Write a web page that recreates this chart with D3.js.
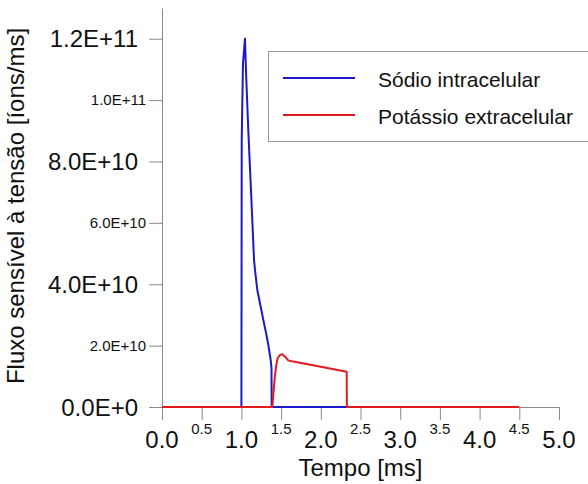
<!DOCTYPE html>
<html>
<head>
<meta charset="utf-8">
<script src="https://cdn.jsdelivr.net/npm/d3@7"></script>
<style>
  html, body { margin: 0; padding: 0; background: #fff; }
  svg { display: block; font-family: "Liberation Sans", Arial, sans-serif; }
</style>
</head>
<body>
<svg id="chart" width="588" height="484"></svg>
<script>
// Voltage-gated ion flux over time [ms]
const timeNa = [0, 1.0, 1.004, 1.02, 1.045, 1.06, 1.087, 1.12, 1.159, 1.171, 1.2, 1.24, 1.276, 1.31, 1.339, 1.369, 1.379, 1.381, 2.326];
const fluxNa = [0, 0, 8.7e10, 1.12e11, 1.2e11, 1.08e11, 9.0e10, 7.1e10, 4.8e10, 4.47e10, 3.82e10, 3.3e10, 2.84e10, 2.42e10, 2.02e10, 1.53e10, 1.27e10, 0, 0];

const timeK = [0, 1.389, 1.405, 1.423, 1.44, 1.457, 1.48, 1.515, 1.55, 1.59, 1.63, 1.654, 2.0, 2.326, 2.328, 4.5];
const fluxK = [0, 0, 5e9, 1.04e10, 1.38e10, 1.59e10, 1.68e10, 1.72e10, 1.64e10, 1.52e10, 1.49e10, 1.48e10, 1.31e10, 1.15e10, 0, 0];

const seriesNames = ["Sódio intracelular", "Potássio extracelular"];
const seriesColors = ["#1a1ac8", "#e3191e"];

const xMajorTicks = [0, 1, 2, 3, 4, 5];
const xMinorTicks = [0.5, 1.5, 2.5, 3.5, 4.5];
const yMajorTicks = [0, 4e10, 8e10, 1.2e11];
const yMinorTicks = [2e10, 6e10, 1e11];

const xTitle = "Tempo [ms]";
const yTitle = "Fluxo sensível à tensão [íons/ms]";

const svg = d3.select("#chart");
const axisColor = "#8a8a8a";

const x = d3.scaleLinear().domain([0, 5]).range([162, 559]);
const y = d3.scaleLinear().domain([0, 1.3e11]).range([407, 8]);

const fmtX = d3.format(".1f");
const fmtY = v => {
  if (v === 0) return "0.0E+0";
  const e = Math.floor(Math.log10(v));
  return (v / Math.pow(10, e)).toFixed(1) + "E+" + e;
};

// X axis
const gx = svg.append("g").attr("transform", `translate(0,${y(0)})`)
  .call(d3.axisBottom(x).tickValues(xMajorTicks.concat(xMinorTicks)).tickSize(13).tickSizeOuter(0).tickFormat(""));
// Y axis
const gy = svg.append("g").attr("transform", `translate(${x(0)},0)`)
  .call(d3.axisLeft(y).tickValues(yMajorTicks.concat(yMinorTicks)).tickSize(13).tickSizeOuter(0).tickFormat(""));
[gx, gy].forEach(g => {
  g.select(".domain").attr("stroke", axisColor).attr("stroke-width", 1);
  g.selectAll(".tick line").attr("stroke", axisColor).attr("stroke-width", 1);
});

// X tick labels
svg.append("g").selectAll("text").data(xMajorTicks).join("text")
  .attr("x", d => x(d)).attr("y", 448)
  .attr("text-anchor", "middle").attr("font-size", 24).attr("fill", "#111")
  .text(d => fmtX(d));
svg.append("g").selectAll("text").data(xMinorTicks).join("text")
  .attr("x", d => x(d)).attr("y", 434)
  .attr("text-anchor", "middle").attr("font-size", 15).attr("fill", "#111")
  .text(d => fmtX(d));

// Y tick labels
svg.append("g").selectAll("text").data(yMajorTicks).join("text")
  .attr("x", 138).attr("y", d => y(d)).attr("dy", "0.36em")
  .attr("text-anchor", "end").attr("font-size", 24).attr("fill", "#111")
  .text(d => fmtY(d));
svg.append("g").selectAll("text").data(yMinorTicks).join("text")
  .attr("x", 146).attr("y", d => y(d)).attr("dy", "0.36em")
  .attr("text-anchor", "end").attr("font-size", 15).attr("fill", "#111")
  .text(d => fmtY(d));

// Axis titles
svg.append("text").attr("x", x(2.5)).attr("y", 476)
  .attr("text-anchor", "middle").attr("font-size", 24).attr("fill", "#111")
  .text(xTitle);
svg.append("text").attr("transform", "translate(24,206) rotate(-90)")
  .attr("text-anchor", "middle").attr("font-size", 24).attr("fill", "#111")
  .text(yTitle);

// Series lines
const line = d3.line().x(d => x(d[0])).y(d => y(d[1]));
const series = [d3.zip(timeNa, fluxNa), d3.zip(timeK, fluxK)];
svg.append("g").selectAll("path").data(series).join("path")
  .attr("d", line)
  .attr("fill", "none")
  .attr("stroke", (d, i) => seriesColors[i])
  .attr("stroke-width", 2)
  .attr("stroke-linejoin", "round");

// Legend
const legend = svg.append("g");
legend.append("rect").attr("x", 268.5).attr("y", 51.5).attr("width", 330).attr("height", 90)
  .attr("fill", "#fff").attr("stroke", "#9a9a9a").attr("stroke-width", 1);
const items = legend.selectAll("g.item").data(seriesNames).join("g").attr("class", "item")
  .attr("transform", (d, i) => `translate(0,${78 + i * 37})`);
items.append("line").attr("x1", 283).attr("x2", 355).attr("y1", 0).attr("y2", 0)
  .attr("stroke", (d, i) => seriesColors[i]).attr("stroke-width", 2);
items.append("text").attr("x", 378).attr("y", 8.5)
  .attr("font-size", 21).attr("fill", "#111").text(d => d);
</script>
</body>
</html>
